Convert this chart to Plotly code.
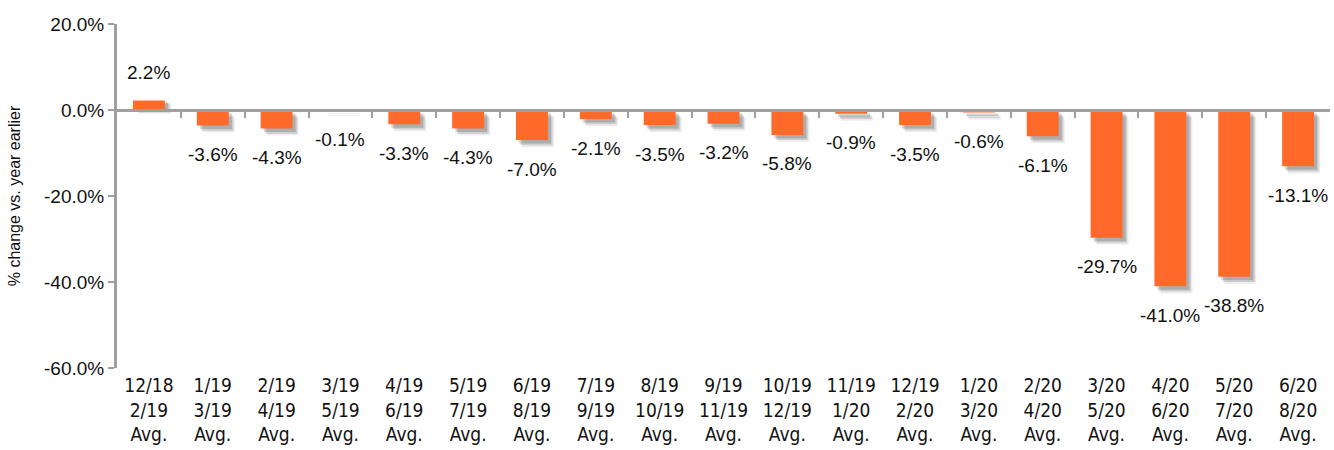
import plotly.graph_objects as go

categories = ["12/18<br>2/19<br>Avg.", "1/19<br>3/19<br>Avg.", "2/19<br>4/19<br>Avg.", "3/19<br>5/19<br>Avg.",
              "4/19<br>6/19<br>Avg.", "5/19<br>7/19<br>Avg.", "6/19<br>8/19<br>Avg.", "7/19<br>9/19<br>Avg.",
              "8/19<br>10/19<br>Avg.", "9/19<br>11/19<br>Avg.", "10/19<br>12/19<br>Avg.", "11/19<br>1/20<br>Avg.",
              "12/19<br>2/20<br>Avg.", "1/20<br>3/20<br>Avg.", "2/20<br>4/20<br>Avg.", "3/20<br>5/20<br>Avg.",
              "4/20<br>6/20<br>Avg.", "5/20<br>7/20<br>Avg.", "6/20<br>8/20<br>Avg."]
values = [2.2, -3.6, -4.3, -0.1, -3.3, -4.3, -7.0, -2.1, -3.5, -3.2, -5.8, -0.9, -3.5, -0.6, -6.1, -29.7, -41.0, -38.8, -13.1]
y_ticks = [20, 0, -20, -40, -60]

BAR = "#FF6A2B"
AXIS = "#A0A0A0"
idx = list(range(len(categories)))

fig = go.Figure()
# soft drop shadow layers
for off, op in [(1.6, 0.08), (1.2, 0.12), (0.8, 0.16)]:
    fig.add_trace(go.Bar(
        x=idx, y=values,
        base=[-off if v < 0 else -off * 0.5 for v in values],
        width=0.5, offset=-0.25 + off * 0.06,
        marker=dict(color=f"rgba(0,0,0,{op})", line=dict(width=0)),
        hoverinfo="skip", showlegend=False))
fig.add_trace(go.Bar(
    x=idx, y=values, width=0.5,
    marker=dict(color=BAR, line=dict(width=0)),
    showlegend=False))

for i, v in zip(idx, values):
    fig.add_annotation(x=i, y=v, text=f"{v:.1f}%", showarrow=False,
                       yshift=28 if v >= 0 else -29,
                       font=dict(family="Liberation Sans, Arial, sans-serif", size=19, color="#111"))

fig.add_trace(go.Scatter(x=idx, y=[None] * len(idx), xaxis="x2", yaxis="y",
                         showlegend=False, hoverinfo="skip"))

fig.update_layout(
    width=1334, height=450,
    margin=dict(l=117, r=4, t=24, b=82),
    plot_bgcolor="white", paper_bgcolor="white",
    barmode="overlay",
    xaxis=dict(
        tickmode="array", tickvals=idx, ticktext=categories,
        range=[-0.5, len(idx) - 0.5],
        showline=False, showgrid=False, zeroline=False, ticks="",
        automargin=False,
        ticklabelstandoff=4,
        tickfont=dict(family="DejaVu Sans Condensed, Liberation Sans Narrow, Arial Narrow, sans-serif", size=19, color="#111"),
    ),
    xaxis2=dict(
        overlaying="x", anchor="free", position=0.75, side="bottom",
        range=[-0.5, len(idx) - 0.5],
        tickmode="array", tickvals=[i + 0.5 for i in idx[:-1]],
        showticklabels=False, ticks="outside", ticklen=6, tickwidth=2, tickcolor=AXIS,
        showline=True, linecolor=AXIS, linewidth=3, showgrid=False, zeroline=False,
    ),
    yaxis=dict(
        range=[-60, 20], tickmode="array", tickvals=y_ticks,
        ticktext=[f"{t:.1f}%" for t in y_ticks],
        ticks="outside", ticklen=6, tickwidth=2, tickcolor=AXIS,
        showline=True, linecolor=AXIS, linewidth=3,
        showgrid=False, zeroline=False,
        tickfont=dict(family="Liberation Sans, Arial, sans-serif", size=19, color="#111"),
        title=dict(text="% change vs. year earlier",
                   font=dict(family="Liberation Sans, Arial, sans-serif", size=16, color="#111"),
                   standoff=20),
    ),
)

fig.write_html("out.html", config={"displayModeBar": False},
               post_script="document.body.style.margin='0';")
